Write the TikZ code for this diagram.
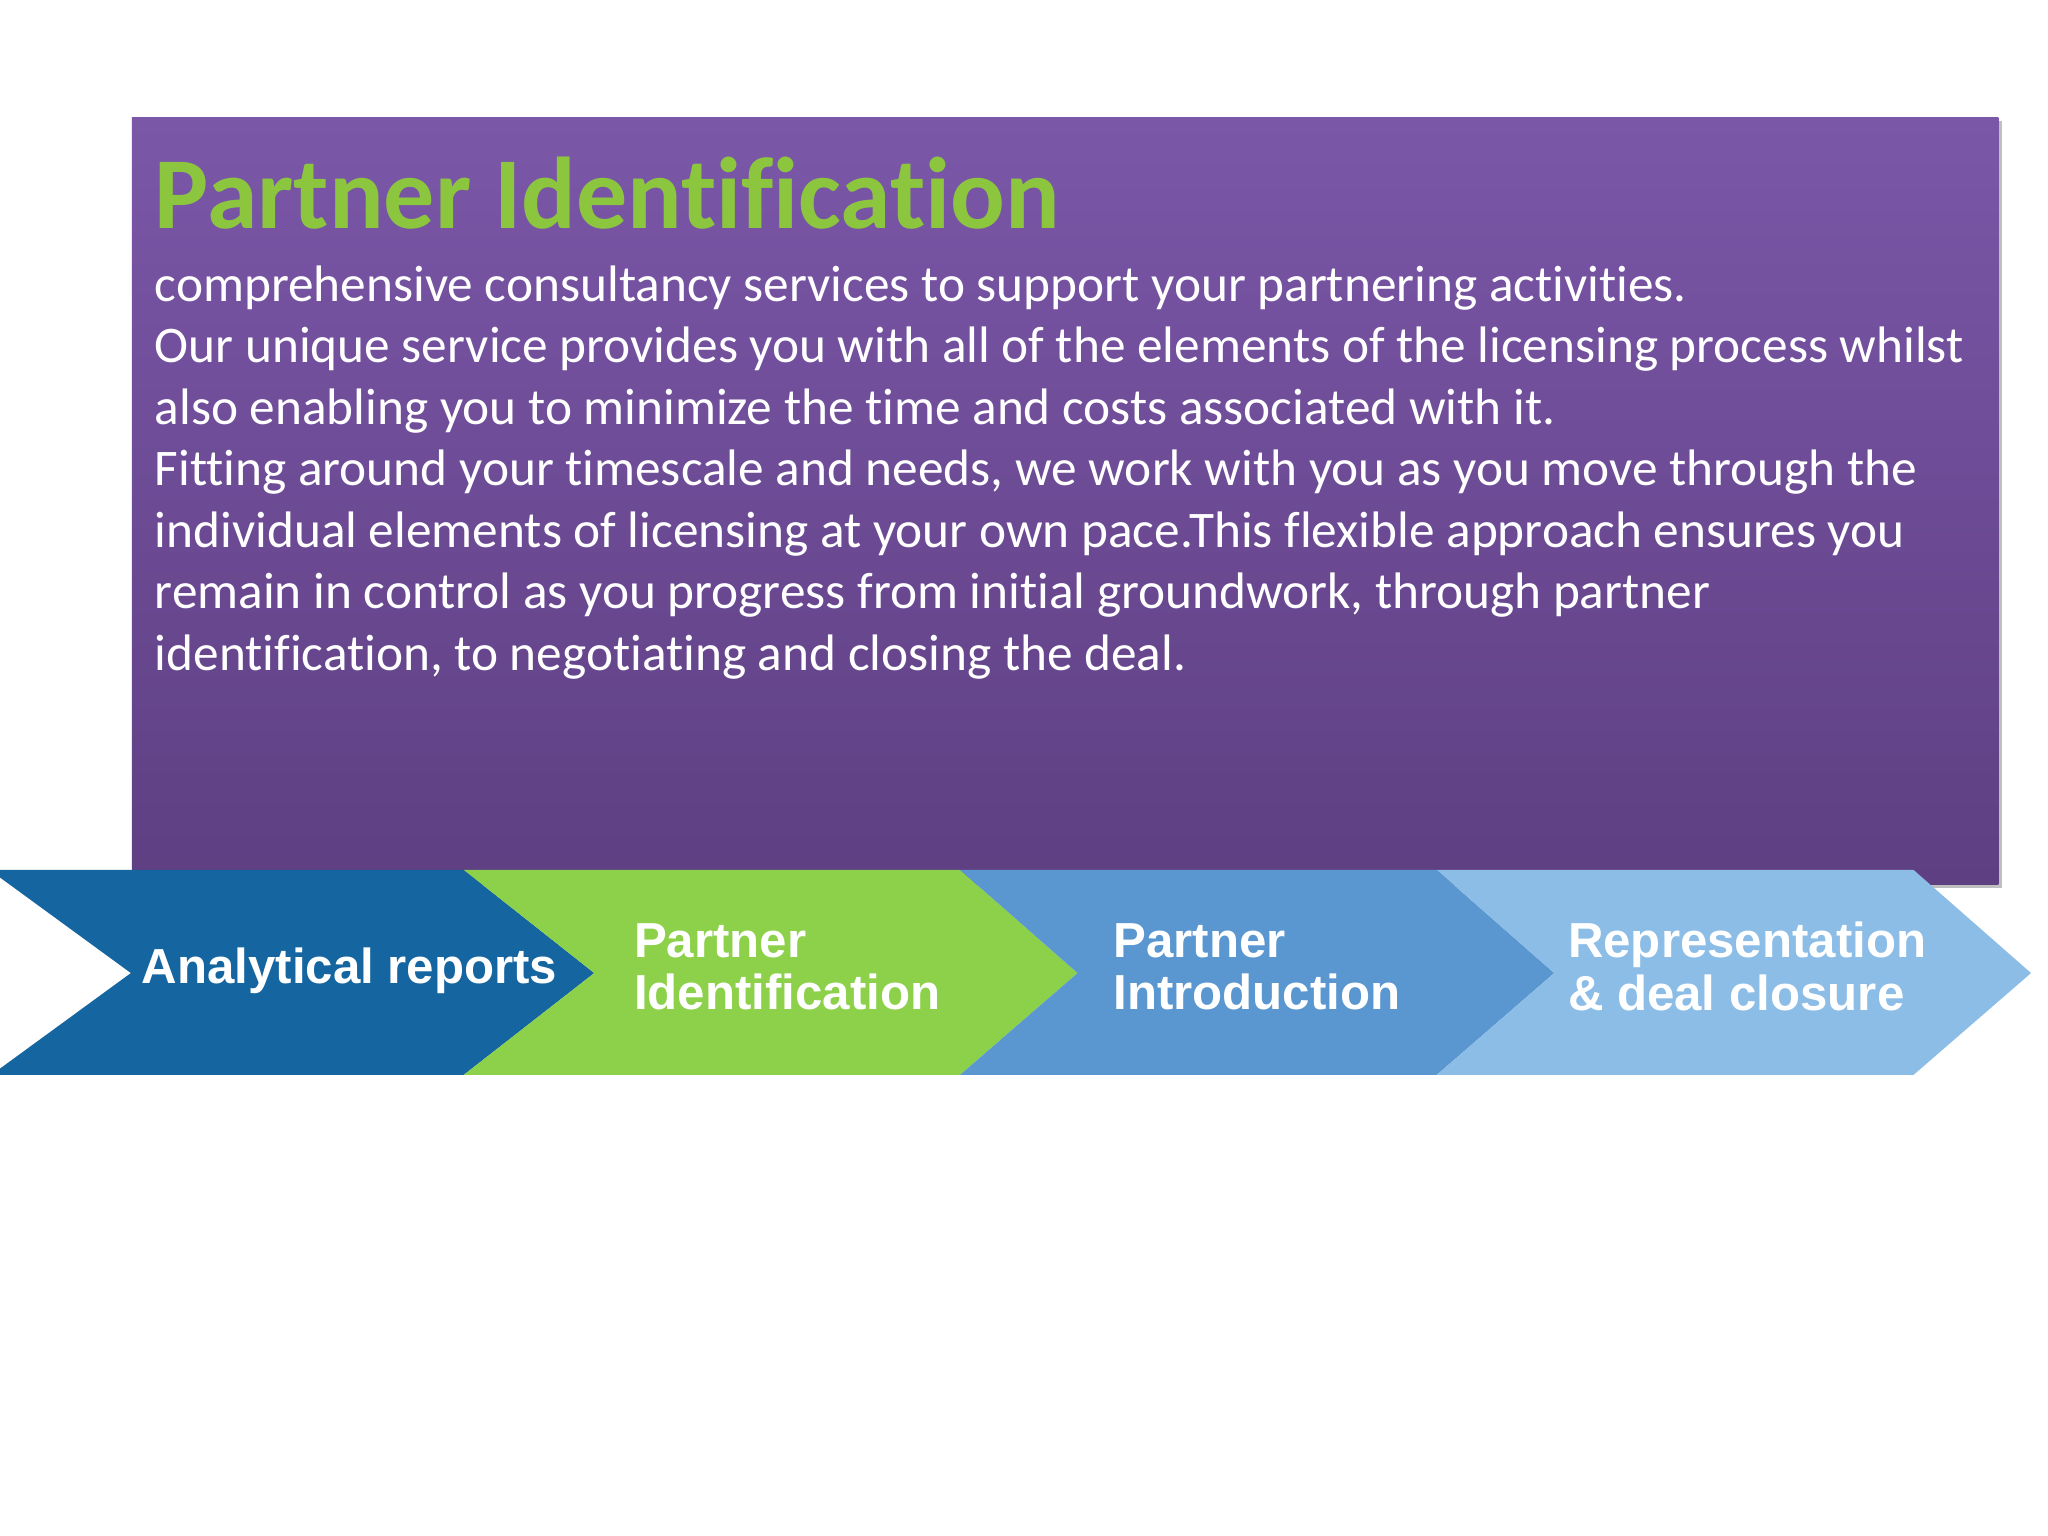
\documentclass[tikz,border=0pt]{standalone}
\usepackage{fontspec}
\setmainfont{Carlito}[RawFeature=-liga]
\newfontfamily\labfont{Liberation Sans}
\definecolor{ptop}{RGB}{123,87,168}
\definecolor{pbot}{RGB}{94,63,130}
\definecolor{ttl}{RGB}{140,198,63}
\definecolor{c1}{RGB}{21,101,160}
\definecolor{c2}{RGB}{141,209,74}
\definecolor{c3}{RGB}{90,151,208}
\definecolor{c4}{RGB}{140,189,230}
\begin{document}
\begin{tikzpicture}[x=0.013061cm,y=-0.013061cm,
  body/.style={anchor=north west,align=left,text=white,font=\fontsize{14.6}{17.5}\selectfont,inner sep=0},
  lab/.style={anchor=west,align=left,text=white,font=\labfont\bfseries\fontsize{14}{14.9}\selectfont,inner sep=0}]
\useasboundingbox (0,0) rectangle (1568,1176);
\fill[white] (0,0) rectangle (1568,1176);
\fill[black!25] (104,93) rectangle (1533,680);
\shade[top color=ptop,bottom color=pbot] (101,90) rectangle (1530,677);
\node[anchor=base west,inner sep=0,text=ttl,font=\bfseries\fontsize{29}{31}\selectfont] (title) at (118,175) {Partner Identification};
\node[body] (txt) at (118,203) {comprehensive consultancy services to support your partnering activities.\\
Our unique service provides you with all of the elements of the licensing process whilst\\
also enabling you to minimize the time and costs associated with it.\\
Fitting around your timescale and needs, we work with you as you move through the\\
individual elements of licensing at your own pace.This flexible approach ensures you\\
remain in control as you progress from initial groundwork, through partner\\
identification, to negotiating and closing the deal.};
\fill[c1] (0,666) -- (355,666) -- (455,745) -- (355,823) -- (0,823) -- cycle;
\fill[white] (0,672) -- (100,745) -- (0,818) -- cycle;
\fill[c2] (355,666) -- (735,666) -- (825,745) -- (735,823) -- (355,823) -- (455,745) -- cycle;
\fill[c3] (735,666) -- (1100,666) -- (1190,745) -- (1100,823) -- (735,823) -- (825,745) -- cycle;
\fill[c4] (1100,666) -- (1465,666) -- (1555,745) -- (1465,823) -- (1100,823) -- (1190,745) -- cycle;
\node[lab] (a) at (108,743) {Analytical reports};
\node[lab] (b) at (485,740) {Partner\\Identification};
\node[lab] (c) at (852,740) {Partner\\Introduction};
\node[lab] (d) at (1200,740) {Representation\\\& deal closure};
\end{tikzpicture}
\end{document}
